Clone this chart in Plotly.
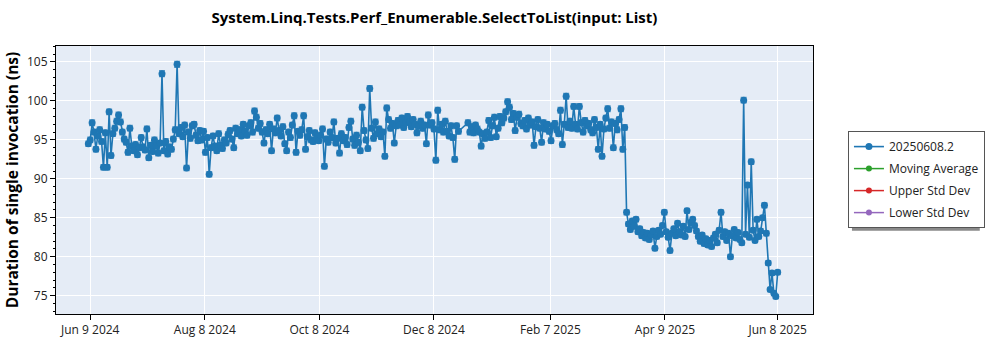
import pandas as pd
import plotly.graph_objects as go

# ---------------- data ----------------
start_date = "2024-06-08"
end_date = "2025-06-08"

durations_ns = [
    94.5, 95.0, 97.2, 96.0, 93.8, 95.5, 96.3, 94.8, 91.5, 95.9,
    91.5, 98.6, 93.0, 95.8, 96.5, 97.4, 98.2, 97.3, 96.0, 95.1,
    94.7, 93.4, 96.5, 94.2, 93.6, 94.4, 93.1, 94.0, 95.3, 94.1,
    93.7, 96.4, 92.7, 94.3, 93.5, 95.0, 94.2, 93.3, 94.6, 103.5,
    93.6, 94.8, 93.2, 94.1, 93.8, 95.1, 96.3, 104.7, 95.8, 96.6,
    95.4, 96.9, 91.4, 96.0, 95.2, 96.8, 97.0, 95.6, 94.9, 96.2,
    95.0, 96.1, 93.4, 95.3, 90.6, 94.0, 95.5, 94.2, 93.6, 95.8,
    94.3, 93.9, 95.0, 94.6, 95.7, 96.2, 95.1, 94.0, 96.5, 95.8,
    96.3, 95.5, 97.0, 96.1, 95.6, 96.8, 97.2, 96.0, 98.7, 97.9,
    96.5, 97.1, 96.0, 94.6, 96.3, 95.8, 97.0, 93.6, 96.4, 95.9,
    97.8, 96.2, 95.5, 96.7, 94.5, 93.6, 96.0, 95.3, 96.9, 98.1,
    93.4, 96.1, 95.6, 96.3, 98.1, 93.8, 95.4, 96.2, 95.0, 94.8,
    95.9, 95.2, 94.9, 95.6, 96.4, 91.6, 95.1, 94.7, 96.0, 95.3,
    97.3, 94.6, 95.2, 93.3, 95.8, 94.9, 95.3, 94.4, 96.6, 97.4,
    95.1, 94.3, 95.6, 94.7, 93.6, 99.2, 96.2, 95.0, 93.9, 101.6,
    96.5, 95.2, 97.3, 95.8, 96.4, 95.4, 96.0, 92.9, 99.1, 97.6,
    96.5, 97.1, 94.6, 96.8, 97.5, 96.9, 97.8, 96.6, 97.2, 98.0,
    97.3, 96.7, 97.6, 97.0, 95.9, 96.8, 97.4, 96.5, 96.9, 94.5,
    98.2, 96.9, 97.2, 96.4, 92.4, 98.8, 96.3, 97.0, 96.0, 97.4,
    96.1, 95.5, 96.8, 95.3, 92.5, 96.8, 96.1, None, None, None,
    None, 97.2, 96.0, 96.7, 95.9, 96.9, 96.4, 96.0, 94.2, 95.8,
    95.2, 96.0, 97.5, 95.3, 96.8, 97.9, 95.4, 96.5, 98.0, 97.2,
    97.8, 98.6, 99.9, 99.2, 97.6, 98.4, 96.2, 97.9, 98.3, 97.1,
    96.8, 97.5, 96.4, 97.8, 96.9, 97.3, 94.3, 96.7, 97.6, 96.5,
    94.7, 97.2, 96.4, 97.0, 96.1, 94.9, 96.8, 97.1, 96.3, 95.8,
    98.8, 94.4, 97.0, 100.6, 96.6, 97.4, 96.5, 99.3, 97.0, 96.4,
    99.3, 97.2, 96.0, 97.5, 96.8, 97.1, 96.3, 95.9, 97.6, 96.6,
    93.8, 97.0, 92.9, 96.4, 97.8, 99.0, 96.5, 97.3, 94.0, 97.1,
    96.3, 97.6, 99.0, 93.8, 96.6, 85.7, 84.2, 83.5, 84.6, 83.9,
    84.8, 83.2, 83.6, 82.7, 83.1, 82.4, 83.0, 82.2, 82.8, 83.3,
    81.1, 82.6, 83.4, 82.9, 84.0, 85.7, 83.2, 82.5, 80.8, 83.0,
    83.6, 82.7, 84.3, 83.2, 82.8, 83.9, 82.6, 85.9, 83.5, 84.4,
    84.8, 84.0, 83.3, 82.6, 82.0, 82.8, 81.7, 82.3, 81.5, 82.1,
    81.3, 82.4, 82.9, 81.8, 83.4, 85.7, 82.6, 83.2, 82.1, 83.0,
    80.0, 82.7, 83.5, 82.4, 83.1, 82.2, 81.8, 100.1, 82.9, 89.2,
    82.5, 92.2, 83.4, 82.1, 84.8, 82.6, 83.3, 85.0, 86.6, 83.0,
    79.2, 75.8, 77.9, 75.3, 74.9, 78.0,
]

dates = pd.date_range(start_date, end_date, freq="D")
assert len(dates) == len(durations_ns), (len(dates), len(durations_ns))

series_names = ["20250608.2", "Moving Average", "Upper Std Dev", "Lower Std Dev"]
series_colors = ["#1f77b4", "#2ca02c", "#d62728", "#9467bd"]

tick_vals = ["2024-06-09", "2024-08-08 16:00", "2024-10-08 08:00", "2024-12-08",
             "2025-02-07 16:00", "2025-04-09 08:00", "2025-06-08"]
tick_text = ["Jun 9 2024", "Aug 8 2024", "Oct 8 2024", "Dec 8 2024",
             "Feb 7 2025", "Apr 9 2025", "Jun 8 2025"]

FONT = "Segoe UI, Open Sans, sans-serif"

fig = go.Figure()
fig.add_trace(go.Scatter(
    x=dates, y=durations_ns, name=series_names[0], mode="lines+markers",
    connectgaps=True,
    line=dict(color=series_colors[0], width=1.6),
    marker=dict(color=series_colors[0], size=7),
    error_y=dict(type="percent", value=0.35, color="rgba(31,119,180,0.7)",
                 thickness=1.5, width=3),
    legendgroup="g0",
))
for i in range(1, 4):
    fig.add_trace(go.Scatter(
        x=[dates[0]], y=[None], name=series_names[i], mode="lines+markers",
        line=dict(color=series_colors[i], width=1.5),
        marker=dict(color=series_colors[i], size=6),
        legendgroup=f"g{i}", showlegend=True,
    ))

# legend drop shadow (paper coords)
fig.add_shape(type="rect", xref="paper", yref="paper",
              x0=(852 - 55) / 758, x1=(980 - 55) / 758,
              y0=(320 - 235) / 274, y1=(320 - 137) / 274,
              fillcolor="#8a8a8a", line=dict(width=0), layer="below")

fig.update_layout(
    width=1000, height=350,
    margin=dict(l=55, r=187, t=46, b=30),
    paper_bgcolor="white", plot_bgcolor="#E5ECF6",
    font=dict(family=FONT, size=12, color="#222"),
    title=dict(text="<b>System.Linq.Tests.Perf_Enumerable.SelectToList(input: List)</b>",
               x=0.5, xref="paper", xanchor="center", y=1 - 18 / 350, yanchor="middle",
               font=dict(family=FONT, size=15, color="#000")),
    legend=dict(x=(848 - 55) / 758, xanchor="left", y=(320 - 133) / 274, yanchor="top",
                bgcolor="white", bordercolor="#555", borderwidth=1,
                tracegroupgap=3, font=dict(family=FONT, size=12, color="#222")),
    showlegend=True,
)
fig.update_xaxes(
    type="date", range=["2024-05-21 21:00", "2025-06-26 17:00"],
    tickvals=tick_vals, ticktext=tick_text,
    showgrid=True, gridcolor="white", gridwidth=1,
    showline=True, linecolor="black", linewidth=1, mirror=True,
    ticks="outside", ticklen=5, tickcolor="black", zeroline=False,
)
fig.update_yaxes(
    range=[72.65, 107.05], tickvals=[75, 80, 85, 90, 95, 100, 105],
    showgrid=True, gridcolor="white", gridwidth=1,
    showline=True, linecolor="black", linewidth=1, mirror=True,
    ticks="outside", ticklen=5, tickcolor="black", zeroline=False,
    minor=dict(ticks="outside", ticklen=2, dtick=1, tickcolor="black", showgrid=False),
    title=dict(text="<b>Duration of single invocation (ns)</b>", standoff=4,
               font=dict(family=FONT, size=15.5, color="#000")),
)

fig.write_html("out.html")
